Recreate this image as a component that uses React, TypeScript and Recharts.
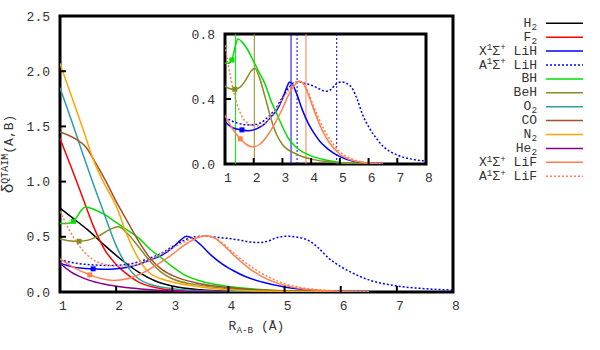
import React from 'react';
import { ComposedChart, Line, XAxis, YAxis, ReferenceArea, ReferenceDot, ReferenceLine, Legend } from 'recharts';

const xTicks = [1, 2, 3, 4, 5, 6, 7, 8];
const yTicksMain = [0, 0.5, 1, 1.5, 2, 2.5];
const yTicksInset = [0, 0.4, 0.8];

const h2 = [[1, 0.76], [1.2, 0.68], [1.5, 0.56], [1.8, 0.42], [2.1, 0.29], [2.4, 0.18], [2.7, 0.1], [3.0, 0.055], [3.5, 0.02], [4, 0.008], [5, 0.002], [6, 0]];
const f2 = [[1, 1.39], [1.2, 1.13], [1.4, 0.86], [1.6, 0.59], [1.8, 0.38], [2.0, 0.25], [2.2, 0.16], [2.4, 0.09], [2.7, 0.04], [3, 0.015], [3.5, 0.005], [4, 0.001], [5, 0]];
const lihX = [[1, 0.26], [1.2, 0.23], [1.4, 0.215], [1.59, 0.21], [1.8, 0.205], [2.0, 0.21], [2.2, 0.225], [2.4, 0.25], [2.6, 0.29], [2.8, 0.33], [3.0, 0.4], [3.15, 0.47], [3.25, 0.505], [3.35, 0.49], [3.5, 0.43], [3.7, 0.33], [3.9, 0.25], [4.1, 0.19], [4.3, 0.14], [4.6, 0.09], [5.0, 0.045], [5.5, 0.015], [6, 0.005], [6.5, 0]];
const lihA = [[1, 0.29], [1.3, 0.26], [1.6, 0.245], [1.9, 0.24], [2.2, 0.25], [2.5, 0.29], [2.8, 0.35], [3.0, 0.41], [3.2, 0.465], [3.4, 0.5], [3.6, 0.505], [3.8, 0.495], [4.0, 0.485], [4.2, 0.47], [4.4, 0.452], [4.55, 0.448], [4.7, 0.46], [4.85, 0.49], [5.05, 0.505], [5.25, 0.495], [5.45, 0.46], [5.6, 0.4], [5.8, 0.3], [6.0, 0.23], [6.2, 0.175], [6.5, 0.11], [7.0, 0.055], [7.5, 0.03], [8, 0.018]];
const bh = [[1, 0.62], [1.12, 0.62], [1.24, 0.64], [1.3, 0.68], [1.38, 0.74], [1.45, 0.77], [1.6, 0.75], [1.8, 0.7], [2.0, 0.63], [2.2, 0.56], [2.4, 0.49], [2.6, 0.39], [2.8, 0.31], [3.0, 0.23], [3.2, 0.16], [3.5, 0.1], [4, 0.05], [4.5, 0.025], [5, 0.01], [5.5, 0.004], [6, 0]];
const beh = [[1, 0.48], [1.15, 0.465], [1.34, 0.46], [1.5, 0.47], [1.7, 0.51], [1.9, 0.57], [2.04, 0.59], [2.2, 0.53], [2.4, 0.41], [2.6, 0.28], [2.8, 0.18], [3.0, 0.12], [3.5, 0.06], [4, 0.03], [4.5, 0.015], [5, 0.006], [6, 0]];
const o2 = [[1, 1.85], [1.2, 1.56], [1.4, 1.26], [1.6, 0.97], [1.8, 0.69], [2.0, 0.42], [2.2, 0.23], [2.4, 0.12], [2.6, 0.07], [2.8, 0.045], [3, 0.03], [3.5, 0.012], [4, 0.005], [5, 0]];
const co = [[1, 1.45], [1.15, 1.42], [1.3, 1.38], [1.45, 1.32], [1.6, 1.2], [1.8, 1.02], [2.0, 0.82], [2.2, 0.64], [2.4, 0.46], [2.6, 0.31], [2.8, 0.21], [3.0, 0.15], [3.5, 0.075], [4, 0.04], [4.5, 0.02], [5, 0.01], [6, 0.002]];
const n2 = [[1, 2.07], [1.2, 1.78], [1.4, 1.49], [1.6, 1.19], [1.8, 0.97], [2.0, 0.78], [2.2, 0.51], [2.4, 0.3], [2.6, 0.17], [2.8, 0.12], [3.0, 0.09], [3.5, 0.045], [4, 0.02], [4.5, 0.01], [5, 0.004], [6, 0]];
const he2 = [[1, 0.26], [1.2, 0.18], [1.5, 0.11], [1.8, 0.07], [2.1, 0.045], [2.5, 0.025], [3, 0.01], [3.5, 0.004], [4, 0]];
const lifX = [[1, 0.3], [1.25, 0.22], [1.53, 0.155], [1.75, 0.12], [1.95, 0.105], [2.2, 0.12], [2.5, 0.18], [2.8, 0.27], [3.0, 0.34], [3.2, 0.42], [3.4, 0.48], [3.6, 0.51], [3.75, 0.49], [3.9, 0.43], [4.1, 0.33], [4.38, 0.21], [4.6, 0.14], [5.0, 0.06], [5.3, 0.03], [5.6, 0.015], [6, 0.005], [6.5, 0]];
const lifA = [[1, 0.73], [1.2, 0.53], [1.4, 0.38], [1.6, 0.29], [1.8, 0.25], [2.0, 0.235], [2.3, 0.24], [2.6, 0.29], [2.9, 0.37], [3.2, 0.45], [3.4, 0.495], [3.55, 0.51], [3.7, 0.5], [3.9, 0.44], [4.1, 0.35], [4.4, 0.23], [4.7, 0.14], [5.0, 0.075], [5.3, 0.04], [5.6, 0.02], [6, 0.008], [6.5, 0]];

const bhMarker = [1.24, 0.64];
const behMarker = [1.34, 0.46];
const lihMarker = [1.59, 0.21];
const lifMarker = [1.53, 0.155];

const insetLines = [
  { x: 1.37, key: 'bh' },
  { x: 2.02, key: 'beh' },
  { x: 3.3, key: 'lihX' },
  { x: 3.51, key: 'lihA' },
  { x: 3.82, key: 'lifX' },
  { x: 4.89, key: 'lihA' },
];

const legendLabels = ['H_2', 'F_2', 'X^1Σ^+ LiH', 'A^1Σ^+ LiH', 'BH', 'BeH', 'O_2', 'CO', 'N_2', 'He_2', 'X^1Σ^+ LiF', 'A^1Σ^+ LiF'];

const series = [
  { key: 'h2', data: h2, color: '#000000', dotted: false },
  { key: 'f2', data: f2, color: '#ff0000', dotted: false },
  { key: 'lihX', data: lihX, color: '#0000ff', dotted: false },
  { key: 'lihA', data: lihA, color: '#0000ff', dotted: true },
  { key: 'bh', data: bh, color: '#00e000', dotted: false },
  { key: 'beh', data: beh, color: '#8b8a20', dotted: false },
  { key: 'o2', data: o2, color: '#2a9fa5', dotted: false },
  { key: 'co', data: co, color: '#a0522d', dotted: false },
  { key: 'n2', data: n2, color: '#ffa500', dotted: false },
  { key: 'he2', data: he2, color: '#880088', dotted: false },
  { key: 'lifX', data: lifX, color: '#ff7f50', dotted: false },
  { key: 'lifA', data: lifA, color: '#ff7f50', dotted: true },
];
const insetKeys = ['lihX', 'lihA', 'bh', 'beh', 'lifX', 'lifA'];
const markers = [
  { v: bhMarker, key: 'bh' },
  { v: behMarker, key: 'beh' },
  { v: lihMarker, key: 'lihX' },
  { v: lifMarker, key: 'lifX' },
];

const colorOf = (k: string) => series.find((s) => s.key === k)!.color;
const toPts = (arr: number[][]) => arr.map(([x, y]) => ({ x, y }));

const FONT = 'Liberation Mono, DejaVu Sans Mono, monospace';
const FS = 13;
const TXT = '#333';

function parseRich(s: string) {
  const segs: { t: string; k: string }[] = [];
  let i = 0;
  while (i < s.length) {
    const c = s[i];
    if (c === '_' || c === '^') {
      let t: string;
      if (s[i + 1] === '{') {
        const j = s.indexOf('}', i + 2);
        t = s.slice(i + 2, j);
        i = j + 1;
      } else {
        t = s[i + 1];
        i += 2;
      }
      segs.push({ t, k: c === '_' ? 'sub' : 'sup' });
    } else {
      let j = i;
      while (j < s.length && s[j] !== '_' && s[j] !== '^') j++;
      segs.push({ t: s.slice(i, j), k: 'n' });
      i = j;
    }
  }
  return segs;
}

function richSpans(s: string, fs: number) {
  let cur = 0;
  return parseRich(s).map((seg, idx) => {
    const target = seg.k === 'sub' ? fs * 0.24 : seg.k === 'sup' ? -fs * 0.32 : 0;
    const dy = target - cur;
    cur = target;
    return (
      <tspan key={idx} dy={dy} fontSize={seg.k === 'n' ? fs : fs * 0.72} style={{ whiteSpace: 'pre' }}>
        {seg.t}
      </tspan>
    );
  });
}

const TL = 6;

const BottomTick = (p: any) => (
  <g>
    <line x1={p.x} y1={p.y} x2={p.x} y2={p.y - TL} stroke="#000" strokeWidth={2} />
    <text x={p.x + 3} y={p.y + 18} textAnchor="middle" fontFamily={FONT} fontSize={FS} fill={TXT}>
      {p.payload.value}
    </text>
  </g>
);
const TopTick = (p: any) => <line x1={p.x} y1={p.y} x2={p.x} y2={p.y + TL} stroke="#000" strokeWidth={2} />;
const LeftTick = (p: any) => (
  <g>
    <line x1={p.x} y1={p.y} x2={p.x + TL} y2={p.y} stroke="#000" strokeWidth={2} />
    <text x={p.x - 10} y={p.y + 4.5} textAnchor="end" fontFamily={FONT} fontSize={FS} fill={TXT}>
      {Number(p.payload.value).toFixed(1)}
    </text>
  </g>
);
const RightTick = (p: any) => <line x1={p.x} y1={p.y} x2={p.x - TL} y2={p.y} stroke="#000" strokeWidth={2} />;

const squareShape = (color: string) => (p: any) => (
  <rect x={p.cx - 2.5} y={p.cy - 2.5} width={5} height={5} fill={color} />
);

const renderLegend = () => (
  <svg width={160} height={180} style={{ display: 'block' }}>
    {legendLabels.map((lab, i) => {
      const s = series[i];
      const y = 9.3 + i * 13.9;
      return (
        <g key={i}>
          <text x={97} y={y + 3.5} textAnchor="end" fontFamily={FONT} fontSize={FS} fill={TXT}>
            {richSpans(lab, FS)}
          </text>
          <line x1={106} y1={y} x2={143} y2={y} stroke={s.color} strokeWidth={1.5} strokeDasharray={s.dotted ? '2 2' : undefined} />
        </g>
      );
    })}
  </svg>
);

const yLabel = (p: any) => {
  const vb = p.viewBox;
  const x = vb.x - 7;
  const y = vb.y + vb.height / 2;
  return (
    <text transform={`rotate(-90, ${x}, ${y})`} x={x} y={y} textAnchor="middle" fontFamily={FONT} fontSize={FS} fill={TXT}>
      <tspan fontSize={16}>δ</tspan>
      <tspan dy={-5} fontSize={10}>QTAIM</tspan>
      <tspan dy={5}>(A,B)</tspan>
    </text>
  );
};

const xLabel = (p: any) => {
  const vb = p.viewBox;
  return (
    <text x={vb.x + vb.width / 2} y={vb.y + 38} textAnchor="middle" fontFamily={FONT} fontSize={FS} fill={TXT}>
      {richSpans('R_{A-B} (Å)', FS)}
    </text>
  );
};

export default function App() {
  return (
    <div style={{ position: 'absolute', left: 0, top: 0, width: 600, height: 350, background: '#fff' }}>
      <div style={{ position: 'absolute', left: 0, top: 0 }}>
        <ComposedChart width={600} height={350} margin={{ top: 16, right: 147, bottom: 28, left: 20 }}>
          <XAxis xAxisId={0} type="number" dataKey="x" domain={[1, 8]} ticks={xTicks} allowDataOverflow height={30} axisLine={false} tickLine={false} tickSize={0} tickMargin={0} tick={(p: any) => <BottomTick {...p} />} label={xLabel} />
          <XAxis xAxisId="t" orientation="top" type="number" dataKey="x" domain={[1, 8]} ticks={xTicks} allowDataOverflow height={0} axisLine={false} tickLine={false} tickSize={0} tickMargin={0} tick={(p: any) => <TopTick {...p} />} />
          <YAxis yAxisId={0} type="number" domain={[0, 2.5]} ticks={yTicksMain} allowDataOverflow width={40} axisLine={false} tickLine={false} tickSize={0} tickMargin={0} tick={(p: any) => <LeftTick {...p} />} label={yLabel} />
          <YAxis yAxisId="r" orientation="right" type="number" domain={[0, 2.5]} ticks={yTicksMain} allowDataOverflow width={0} axisLine={false} tickLine={false} tickSize={0} tickMargin={0} tick={(p: any) => <RightTick {...p} />} />
          {series.map((s) => (
            <Line key={s.key} data={toPts(s.data)} dataKey="y" type="monotone" stroke={s.color} strokeWidth={1.5} strokeDasharray={s.dotted ? '2 2' : undefined} dot={false} activeDot={false} isAnimationActive={false} legendType="line" name={s.key} />
          ))}
          {markers.map((m) => (
            <ReferenceDot key={m.key} x={m.v[0]} y={m.v[1]} r={3} shape={squareShape(colorOf(m.key))} />
          ))}
          <ReferenceArea x1={1} x2={8} y1={0} y2={2.5} fill="none" fillOpacity={0} stroke="#000" strokeWidth={3} />
          <Legend layout="vertical" align="center" verticalAlign="middle" content={renderLegend} wrapperStyle={{ left: 440, top: 14, width: 160, height: 180 }} />
        </ComposedChart>
      </div>
      <div style={{ position: 'absolute', left: 185, top: 24 }}>
        <ComposedChart width={256} height={165} margin={{ top: 10, right: 15, bottom: 0, left: 0 }}>
          <XAxis xAxisId={0} type="number" dataKey="x" domain={[1, 8]} ticks={xTicks} allowDataOverflow height={25} axisLine={false} tickLine={false} tickSize={0} tickMargin={0} tick={(p: any) => <BottomTick {...p} />} />
          <XAxis xAxisId="t" orientation="top" type="number" dataKey="x" domain={[1, 8]} ticks={xTicks} allowDataOverflow height={0} axisLine={false} tickLine={false} tickSize={0} tickMargin={0} tick={(p: any) => <TopTick {...p} />} />
          <YAxis yAxisId={0} type="number" domain={[0, 0.8]} ticks={yTicksInset} allowDataOverflow width={40} axisLine={false} tickLine={false} tickSize={0} tickMargin={0} tick={(p: any) => <LeftTick {...p} />} />
          <YAxis yAxisId="r" orientation="right" type="number" domain={[0, 0.8]} ticks={yTicksInset} allowDataOverflow width={0} axisLine={false} tickLine={false} tickSize={0} tickMargin={0} tick={(p: any) => <RightTick {...p} />} />
          {insetLines.map((l, i) => (
            <ReferenceLine key={i} x={l.x} stroke={colorOf(l.key)} strokeWidth={1} strokeDasharray={l.key === 'lihA' ? '2 2' : undefined} />
          ))}
          {series.filter((s) => insetKeys.includes(s.key)).map((s) => (
            <Line key={s.key} data={toPts(s.data)} dataKey="y" type="monotone" stroke={s.color} strokeWidth={1.5} strokeDasharray={s.dotted ? '2 2' : undefined} dot={false} activeDot={false} isAnimationActive={false} />
          ))}
          {markers.map((m) => (
            <ReferenceDot key={m.key} x={m.v[0]} y={m.v[1]} r={3} shape={squareShape(colorOf(m.key))} />
          ))}
          <ReferenceArea x1={1} x2={8} y1={0} y2={0.8} fill="none" fillOpacity={0} stroke="#000" strokeWidth={3} />
        </ComposedChart>
      </div>
    </div>
  );
}
